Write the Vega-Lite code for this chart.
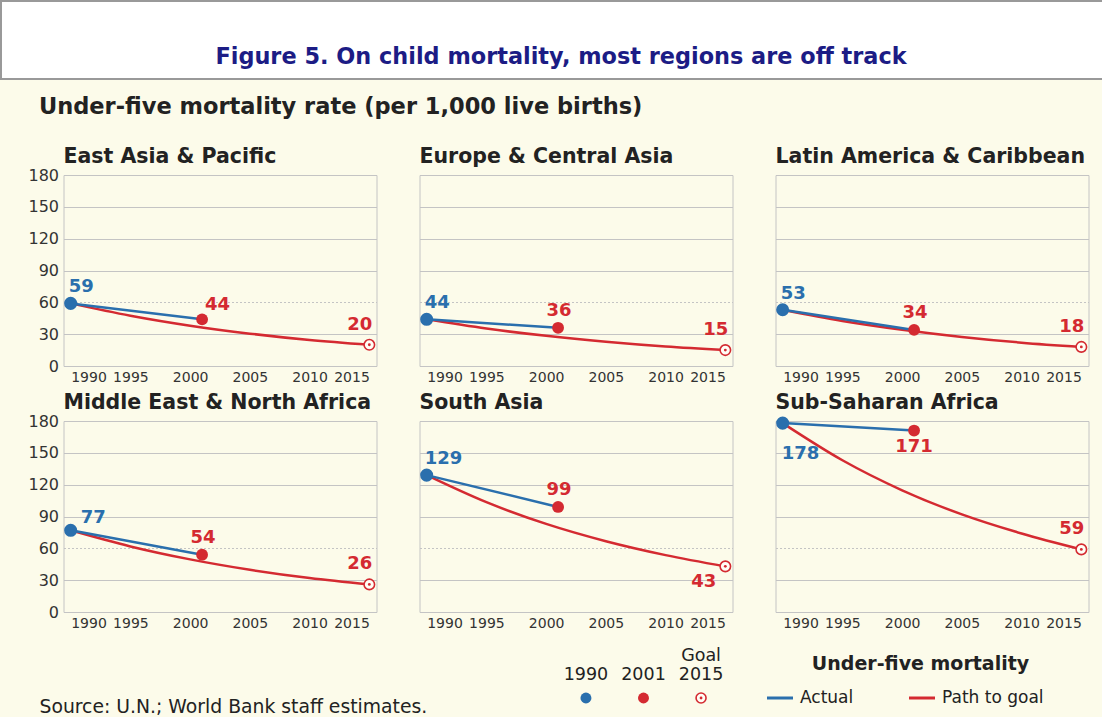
{
  "$schema": "https://vega.github.io/schema/vega-lite/v6.json",
  "padding": 0,
  "background": "#fcfbea",
  "config": {
    "font": "DejaVu Sans",
    "view": {"stroke": "#c4c4c4"},
    "axisX": {"grid": false, "domain": false, "ticks": false, "labelFontSize": 14, "labelPadding": 4, "labelColor": "#333", "labelFlush": 10, "title": null},
    "axisY": {"domain": false, "ticks": false, "labelFontSize": 16, "labelPadding": 5, "labelColor": "#333", "title": null, "gridColor": "#c4c4c4", "gridWidth": 1.2},
    "header": {"labelFont": "DejaVu Sans", "labelFontSize": 20.5, "labelFontWeight": "bold", "labelColor": "#222", "labelAnchor": "start", "labelPadding": 1},
    "title": {"font": "DejaVu Sans", "color": "#222"}
  },
  "datasets": {
    "head": [{"text": "Figure 5. On child mortality, most regions are off track"}],
    "years": [{"key": "1990"}, {"key": "2001"}, {"key": "Goal 2015"}],
    "lines": [{"key": "Actual"}, {"key": "Path to goal"}],
    "mort": [
      {"region": "East Asia & Pacific", "key": "Actual", "year": 1990, "value": 59},
      {"region": "East Asia & Pacific", "key": "Actual", "year": 2001, "value": 44},
      {"region": "East Asia & Pacific", "key": "Path to goal", "year": 1990, "value": 59},
      {"region": "East Asia & Pacific", "key": "Path to goal", "year": 1995, "value": 47.4},
      {"region": "East Asia & Pacific", "key": "Path to goal", "year": 2000, "value": 38},
      {"region": "East Asia & Pacific", "key": "Path to goal", "year": 2005, "value": 30.5},
      {"region": "East Asia & Pacific", "key": "Path to goal", "year": 2010, "value": 24.5},
      {"region": "East Asia & Pacific", "key": "Path to goal", "year": 2015, "value": 20},
      {"region": "East Asia & Pacific", "key": "1990", "year": 1990, "value": 59},
      {"region": "East Asia & Pacific", "key": "2001", "year": 2001, "value": 44},
      {"region": "East Asia & Pacific", "key": "Goal 2015", "year": 2015, "value": 20},

      {"region": "Europe & Central Asia", "key": "Actual", "year": 1990, "value": 44},
      {"region": "Europe & Central Asia", "key": "Actual", "year": 2001, "value": 36},
      {"region": "Europe & Central Asia", "key": "Path to goal", "year": 1990, "value": 44},
      {"region": "Europe & Central Asia", "key": "Path to goal", "year": 1995, "value": 35.3},
      {"region": "Europe & Central Asia", "key": "Path to goal", "year": 2000, "value": 28.4},
      {"region": "Europe & Central Asia", "key": "Path to goal", "year": 2005, "value": 22.8},
      {"region": "Europe & Central Asia", "key": "Path to goal", "year": 2010, "value": 18.3},
      {"region": "Europe & Central Asia", "key": "Path to goal", "year": 2015, "value": 15},
      {"region": "Europe & Central Asia", "key": "1990", "year": 1990, "value": 44},
      {"region": "Europe & Central Asia", "key": "2001", "year": 2001, "value": 36},
      {"region": "Europe & Central Asia", "key": "Goal 2015", "year": 2015, "value": 15},

      {"region": "Latin America & Caribbean", "key": "Actual", "year": 1990, "value": 53},
      {"region": "Latin America & Caribbean", "key": "Actual", "year": 2001, "value": 34},
      {"region": "Latin America & Caribbean", "key": "Path to goal", "year": 1990, "value": 53},
      {"region": "Latin America & Caribbean", "key": "Path to goal", "year": 1995, "value": 42.5},
      {"region": "Latin America & Caribbean", "key": "Path to goal", "year": 2000, "value": 34.2},
      {"region": "Latin America & Caribbean", "key": "Path to goal", "year": 2005, "value": 27.4},
      {"region": "Latin America & Caribbean", "key": "Path to goal", "year": 2010, "value": 22},
      {"region": "Latin America & Caribbean", "key": "Path to goal", "year": 2015, "value": 18},
      {"region": "Latin America & Caribbean", "key": "1990", "year": 1990, "value": 53},
      {"region": "Latin America & Caribbean", "key": "2001", "year": 2001, "value": 34},
      {"region": "Latin America & Caribbean", "key": "Goal 2015", "year": 2015, "value": 18},

      {"region": "Middle East & North Africa", "key": "Actual", "year": 1990, "value": 77},
      {"region": "Middle East & North Africa", "key": "Actual", "year": 2001, "value": 54},
      {"region": "Middle East & North Africa", "key": "Path to goal", "year": 1990, "value": 77},
      {"region": "Middle East & North Africa", "key": "Path to goal", "year": 1995, "value": 61.8},
      {"region": "Middle East & North Africa", "key": "Path to goal", "year": 2000, "value": 49.6},
      {"region": "Middle East & North Africa", "key": "Path to goal", "year": 2005, "value": 39.8},
      {"region": "Middle East & North Africa", "key": "Path to goal", "year": 2010, "value": 32},
      {"region": "Middle East & North Africa", "key": "Path to goal", "year": 2015, "value": 26},
      {"region": "Middle East & North Africa", "key": "1990", "year": 1990, "value": 77},
      {"region": "Middle East & North Africa", "key": "2001", "year": 2001, "value": 54},
      {"region": "Middle East & North Africa", "key": "Goal 2015", "year": 2015, "value": 26},

      {"region": "South Asia", "key": "Actual", "year": 1990, "value": 129},
      {"region": "South Asia", "key": "Actual", "year": 2001, "value": 99},
      {"region": "South Asia", "key": "Path to goal", "year": 1990, "value": 129},
      {"region": "South Asia", "key": "Path to goal", "year": 1995, "value": 103.5},
      {"region": "South Asia", "key": "Path to goal", "year": 2000, "value": 83},
      {"region": "South Asia", "key": "Path to goal", "year": 2005, "value": 66.7},
      {"region": "South Asia", "key": "Path to goal", "year": 2010, "value": 53.6},
      {"region": "South Asia", "key": "Path to goal", "year": 2015, "value": 43},
      {"region": "South Asia", "key": "1990", "year": 1990, "value": 129},
      {"region": "South Asia", "key": "2001", "year": 2001, "value": 99},
      {"region": "South Asia", "key": "Goal 2015", "year": 2015, "value": 43},

      {"region": "Sub-Saharan Africa", "key": "Actual", "year": 1990, "value": 178},
      {"region": "Sub-Saharan Africa", "key": "Actual", "year": 2001, "value": 171},
      {"region": "Sub-Saharan Africa", "key": "Path to goal", "year": 1990, "value": 178},
      {"region": "Sub-Saharan Africa", "key": "Path to goal", "year": 1995, "value": 143},
      {"region": "Sub-Saharan Africa", "key": "Path to goal", "year": 2000, "value": 114.7},
      {"region": "Sub-Saharan Africa", "key": "Path to goal", "year": 2005, "value": 92},
      {"region": "Sub-Saharan Africa", "key": "Path to goal", "year": 2010, "value": 74},
      {"region": "Sub-Saharan Africa", "key": "Path to goal", "year": 2015, "value": 59},
      {"region": "Sub-Saharan Africa", "key": "1990", "year": 1990, "value": 178},
      {"region": "Sub-Saharan Africa", "key": "2001", "year": 2001, "value": 171},
      {"region": "Sub-Saharan Africa", "key": "Goal 2015", "year": 2015, "value": 59}
    ]
  },
  "spacing": 15,
  "vconcat": [
    {
      "data": {"name": "head"},
      "width": 1102,
      "height": 78,
      "view": {"fill": "#ffffff", "stroke": "#999999", "strokeWidth": 2},
      "mark": {"type": "text", "font": "DejaVu Sans", "fontWeight": "bold", "fontSize": 22.4, "color": "#1c1c85", "dy": 17, "dx": 9},
      "encoding": {"text": {"field": "text", "type": "nominal"}}
    },
    {
      "spacing": 25.5,
      "hconcat": [
        {"data": {"values": []}, "width": 1, "height": 1, "view": {"stroke": null}, "mark": "point"},
        {
          "title": {"text": "Under-five mortality rate (per 1,000 live births)", "anchor": "start", "fontSize": 22.5, "fontWeight": "bold", "dx": 11, "offset": 28},
          "spacing": 16,
          "vconcat": [
            {
              "data": {"name": "mort"},
              "columns": 3,
              "bounds": "flush",
              "spacing": {"row": 55, "column": 43},
              "facet": {
                "field": "region", "type": "nominal",
                "sort": ["East Asia & Pacific", "Europe & Central Asia", "Latin America & Caribbean", "Middle East & North Africa", "South Asia", "Sub-Saharan Africa"],
                "header": {"title": null}
              },
              "resolve": {"axis": {"x": "independent"}},
              "spec": {
                "width": 313,
                "height": 191,
                "encoding": {
                  "x": {"field": "year", "type": "quantitative", "scale": {"domain": [1989.4, 2015.6], "nice": false, "zero": false}, "axis": {"values": [1990, 1995, 2000, 2005, 2010, 2015], "format": "d"}},
                  "y": {"field": "value", "type": "quantitative", "scale": {"domain": [0, 180], "nice": false}, "axis": {"values": [0, 30, 60, 90, 120, 150, 180], "grid": true, "gridDash": {"condition": {"test": "datum.value === 60", "value": [2, 2]}, "value": []}}},
                  "color": {"field": "key", "type": "nominal", "scale": {"domain": ["Actual", "Path to goal", "1990", "2001", "Goal 2015"], "range": ["#2a6fad", "#d42a31", "#2a6fad", "#d42a31", "#d42a31"]}, "legend": null}
                },
                "layer": [
                  {"transform": [{"filter": "datum.key === '1990'"}], "mark": {"type": "point", "shape": "circle", "filled": true, "opacity": 0, "size": 170}, "encoding": {"y": {"datum": 180, "type": "quantitative"}}},
                  {"transform": [{"filter": "datum.key === 'Path to goal'"}], "mark": {"type": "line", "interpolate": "monotone", "strokeWidth": 2.5}},
                  {"transform": [{"filter": "datum.key === 'Actual'"}], "mark": {"type": "line", "strokeWidth": 2.5}},
                  {"transform": [{"filter": "datum.key === '1990'"}], "mark": {"type": "point", "shape": "circle", "filled": true, "opacity": 1, "size": 170}},
                  {"transform": [{"filter": "datum.key === '2001'"}], "mark": {"type": "point", "shape": "circle", "filled": true, "opacity": 1, "size": 140}},
                  {"transform": [{"filter": "datum.key === 'Goal 2015'"}], "mark": {"type": "point", "shape": "circle", "filled": false, "fill": "#fffef6", "opacity": 1, "strokeWidth": 1.6, "size": 110}},
                  {"transform": [{"filter": "datum.key === 'Goal 2015'"}], "mark": {"type": "point", "shape": "circle", "filled": true, "opacity": 1, "size": 8}},
                  {"transform": [{"filter": "datum.key === '1990' && datum.region !== 'Sub-Saharan Africa' && datum.region !== 'Middle East & North Africa'"}], "mark": {"type": "text", "fontWeight": "bold", "fontSize": 18, "align": "left", "baseline": "middle", "dx": -2, "dy": -16}, "encoding": {"text": {"field": "value", "type": "quantitative"}}},
                  {"transform": [{"filter": "datum.key === '1990' && datum.region === 'Middle East & North Africa'"}], "mark": {"type": "text", "fontWeight": "bold", "fontSize": 18, "align": "left", "baseline": "middle", "dx": 10, "dy": -12}, "encoding": {"text": {"field": "value", "type": "quantitative"}}},
                  {"transform": [{"filter": "datum.key === '1990' && datum.region === 'Sub-Saharan Africa'"}], "mark": {"type": "text", "fontWeight": "bold", "fontSize": 18, "align": "left", "baseline": "middle", "dx": -1, "dy": 31}, "encoding": {"text": {"field": "value", "type": "quantitative"}}},
                  {"transform": [{"filter": "datum.key === '2001' && datum.region !== 'Sub-Saharan Africa' && datum.region !== 'East Asia & Pacific'"}], "mark": {"type": "text", "fontWeight": "bold", "fontSize": 18, "align": "center", "baseline": "middle", "dx": 1, "dy": -17}, "encoding": {"text": {"field": "value", "type": "quantitative"}}},
                  {"transform": [{"filter": "datum.key === '2001' && datum.region === 'East Asia & Pacific'"}], "mark": {"type": "text", "fontWeight": "bold", "fontSize": 18, "align": "left", "baseline": "middle", "dx": 3, "dy": -14}, "encoding": {"text": {"field": "value", "type": "quantitative"}}},
                  {"transform": [{"filter": "datum.key === '2001' && datum.region === 'Sub-Saharan Africa'"}], "mark": {"type": "text", "fontWeight": "bold", "fontSize": 18, "align": "center", "baseline": "middle", "dy": 16}, "encoding": {"text": {"field": "value", "type": "quantitative"}}},
                  {"transform": [{"filter": "datum.key === 'Goal 2015' && datum.region !== 'South Asia'"}], "mark": {"type": "text", "fontWeight": "bold", "fontSize": 18, "align": "right", "baseline": "middle", "dx": 3, "dy": -20}, "encoding": {"text": {"field": "value", "type": "quantitative"}}},
                  {"transform": [{"filter": "datum.key === 'Goal 2015' && datum.region === 'South Asia'"}], "mark": {"type": "text", "fontWeight": "bold", "fontSize": 18, "align": "right", "baseline": "middle", "dx": -9, "dy": 16}, "encoding": {"text": {"field": "value", "type": "quantitative"}}}
                ]
              }
            },
            {
              "spacing": 37,
              "hconcat": [
                {
                  "data": {"values": []}, "width": 463, "height": 20, "view": {"stroke": null}, "mark": "point",
                  "title": {"text": "Source: U.N.; World Bank staff estimates.", "orient": "bottom", "anchor": "start", "fontSize": 18.8, "fontWeight": "normal", "offset": -10, "dx": -24}
                },
                {
                  "data": {"name": "years"}, "width": 160, "height": 20, "view": {"stroke": null},
                  "encoding": {
                    "x": {"field": "key", "type": "nominal", "scale": {"type": "point", "domain": ["1990", "2001", "Goal 2015"], "padding": 0.39}, "axis": null},
                    "color": {"field": "key", "type": "nominal", "scale": {"domain": ["Actual", "Path to goal", "1990", "2001", "Goal 2015"], "range": ["#2a6fad", "#d42a31", "#2a6fad", "#d42a31", "#d42a31"]}, "legend": null}
                  },
                  "layer": [
                    {"transform": [{"filter": "datum.key !== 'Goal 2015'"}], "mark": {"type": "point", "shape": "circle", "filled": true, "opacity": 1, "size": 120}},
                    {"transform": [{"filter": "datum.key === 'Goal 2015'"}], "mark": {"type": "point", "shape": "circle", "filled": false, "fill": "#fffef6", "opacity": 1, "strokeWidth": 1.6, "size": 100}},
                    {"transform": [{"filter": "datum.key === 'Goal 2015'"}], "mark": {"type": "point", "shape": "circle", "filled": true, "opacity": 1, "size": 8}},
                    {"transform": [{"filter": "datum.key !== 'Goal 2015'"}], "mark": {"type": "text", "fontSize": 17.5, "baseline": "bottom", "dy": -14}, "encoding": {"text": {"field": "key", "type": "nominal"}, "color": {"value": "#222222"}}},
                    {"transform": [{"filter": "datum.key === 'Goal 2015'"}], "mark": {"type": "text", "fontSize": 17.5, "baseline": "bottom", "dy": -33, "lineBreak": " ", "lineHeight": 18.5}, "encoding": {"text": {"field": "key", "type": "nominal"}, "color": {"value": "#222222"}}}
                  ]
                },
                {
                  "data": {"name": "lines"}, "width": 300, "height": 20, "view": {"stroke": null},
                  "title": {"text": "Under-five mortality", "anchor": "middle", "fontSize": 19, "fontWeight": "bold", "offset": 14},
                  "encoding": {
                    "x": {"field": "key", "type": "nominal", "scale": {"type": "point", "domain": ["Actual", "Path to goal"], "padding": 0.556, "align": 0.06}, "axis": null},
                    "color": {"field": "key", "type": "nominal", "scale": {"domain": ["Actual", "Path to goal", "1990", "2001", "Goal 2015"], "range": ["#2a6fad", "#d42a31", "#2a6fad", "#d42a31", "#d42a31"]}, "legend": null}
                  },
                  "layer": [
                    {"mark": {"type": "point", "shape": "stroke", "filled": false, "opacity": 1, "size": 676, "strokeWidth": 3}},
                    {"mark": {"type": "text", "align": "left", "dx": 20, "fontSize": 17}, "encoding": {"text": {"field": "key", "type": "nominal"}, "color": {"value": "#222222"}}}
                  ]
                }
              ]
            }
          ]
        }
      ]
    }
  ]
}
